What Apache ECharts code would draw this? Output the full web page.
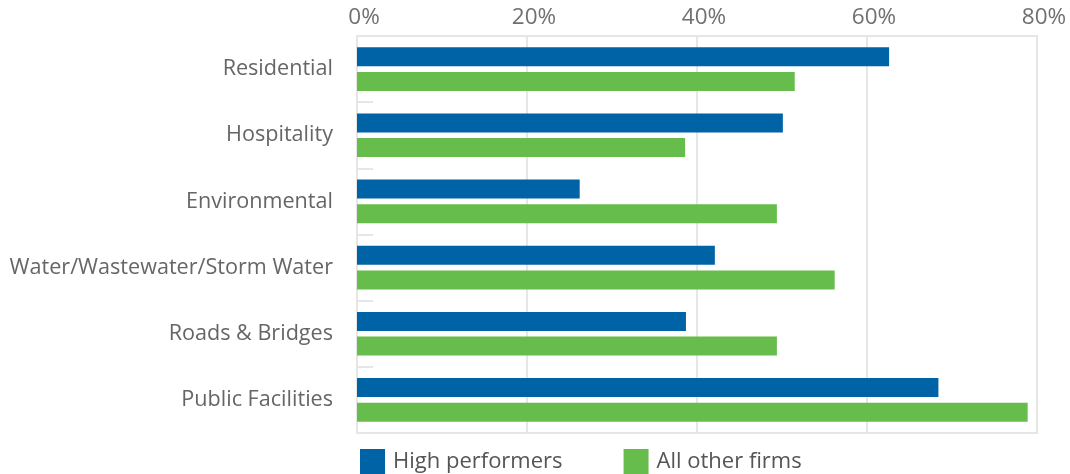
<!DOCTYPE html>
<html>
<head>
<meta charset="utf-8">
<script src="https://cdn.jsdelivr.net/npm/echarts@6/dist/echarts.min.js"></script>
<style>html,body{margin:0;padding:0;background:#fff}#c{width:1070px;height:474px}</style>
</head>
<body>
<div id="c"></div>
<script>
const categories = ["Residential", "Hospitality", "Environmental", "Water/Wastewater/Storm Water", "Roads & Bridges", "Public Facilities"];
const highPerformers = [62.6, 50.1, 26.2, 42.1, 38.7, 68.4];
const allOtherFirms = [51.5, 38.6, 49.4, 56.2, 49.4, 78.9];
const seriesNames = ["High performers", "All other firms"];
const xTicks = [0, 20, 40, 60, 80];

const chart = echarts.init(document.getElementById('c'), null, {renderer: 'canvas'});
const FONT = 'Open Sans';
chart.setOption({
  animation: false,
  color: ['#0063a6', '#66bd4b'],
  grid: {left: 357, right: 33, top: 36, bottom: 41, show: true, borderColor: '#e6e6e6', borderWidth: 2, backgroundColor: 'transparent'},
  legend: {
    data: seriesNames, left: 360, top: 447.5, padding: 0, icon: 'rect', itemWidth: 25, itemHeight: 25, itemGap: 61,
    textStyle: {fontFamily: FONT, fontSize: 22, lineHeight: 21, color: '#555', padding: [0, 0, 7, 3]}
  },
  xAxis: {
    type: 'value', position: 'top', min: xTicks[0], max: xTicks[xTicks.length - 1], interval: 20,
    axisLine: {show: false}, axisTick: {show: false},
    splitLine: {show: true, lineStyle: {color: '#e6e6e6', width: 2}},
    axisLabel: {formatter: '{value}%', fontFamily: FONT, fontSize: 22.5, color: '#707070', margin: 7, padding: [0, 0, 0, 14]}
  },
  yAxis: {
    type: 'category', data: categories, inverse: true,
    axisLine: {show: false},
    axisTick: {show: true, inside: true, length: 16, lineStyle: {color: '#e6e6e6', width: 2}},
    axisLabel: {fontFamily: FONT, fontSize: 21.6, color: '#666', margin: 24, padding: [4, 0, 0, 0]}
  },
  series: [
    {name: seriesNames[0], type: 'bar', data: highPerformers, barWidth: 19, barGap: '30%'},
    {name: seriesNames[1], type: 'bar', data: allOtherFirms, barWidth: 19, barGap: '30%'}
  ]
});
</script>
</body>
</html>
